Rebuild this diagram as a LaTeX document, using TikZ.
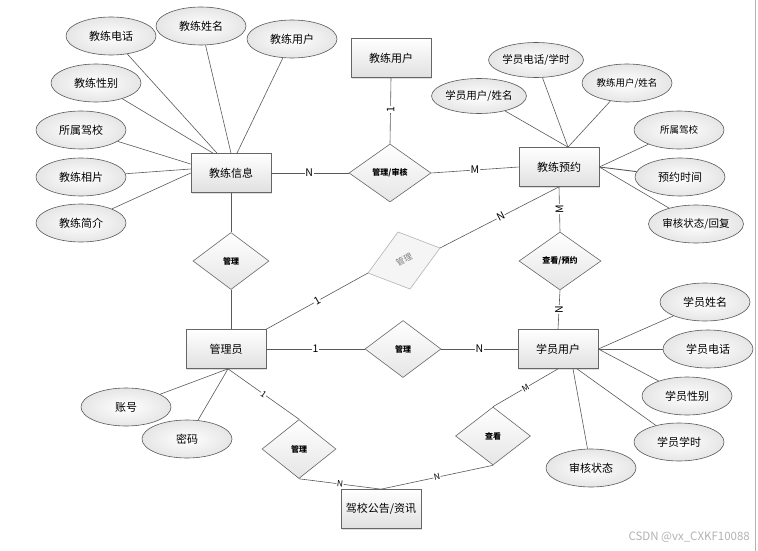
\documentclass[tikz,border=0pt]{standalone}
\usepackage{fontspec}
\setmainfont{Noto Sans CJK SC}
\usetikzlibrary{shapes.geometric,shadows}
\begin{document}
\begin{tikzpicture}[x=1pt,y=-1pt,
  every node/.style={font=\fontsize{11}{12}\selectfont},
  ent/.style={rectangle,draw=black!60,line width=0.7pt,top color=white,bottom color=black!12,
    minimum width=80pt,minimum height=39pt,inner sep=1pt,
    drop shadow={shadow xshift=1.2pt,shadow yshift=-1.2pt,fill=black!25}},
  attr/.style={ellipse,draw=black!65,line width=0.6pt,inner color=white,outer color=black!10,
    minimum width=90pt,minimum height=38pt,inner sep=0pt},
  rel/.style={diamond,draw=black!60,line width=0.6pt,top color=white,bottom color=black!10,
    minimum width=78pt,minimum height=58pt,inner sep=0pt,font=\fontsize{8}{9}\selectfont\bfseries},
  conn/.style={draw=black!65,line width=0.6pt},
  card/.style={font=\fontsize{10.5}{11}\selectfont,fill=white,inner sep=0.6pt},
  smallcard/.style={card,font=\fontsize{8.5}{9}\selectfont},
  smalltxt/.style={font=\fontsize{9.5}{10}\selectfont}
]
\useasboundingbox (0,0) rectangle (758,551);
\draw[black!30,line width=0.8pt] (755.5,0) coordinate (bl1) -- (755.5,551) coordinate (bl2);

% entities
\node[ent] (jlxx) at (231,173) {教练信息};
\node[ent] (jlyh) at (391,58) {教练用户};
\node[ent] (jlyy) at (559,167) {教练预约};
\node[ent] (gly)  at (226,349) {管理员};
\node[ent] (xyyh) at (558,349) {学员用户};
\node[ent] (jxgg) at (381,509) {驾校公告/资讯};

% relationships
\node[rel,minimum width=82pt] (glsh) at (390,173) {管理/审核};
\node[rel,minimum width=76pt,minimum height=57pt] (gl1) at (231,261) {管理};
\node[rel,minimum width=82pt] (ckyy) at (560,261) {查看/预约};
\node[rel,minimum width=76pt,minimum height=57pt] (gl2) at (403,349) {管理};
\node[rel,minimum width=74pt,minimum height=59pt] (gl3) at (299,449) {管理};
\node[rel,minimum width=75pt,minimum height=58pt] (ck)  at (493,436) {查看};

% light skewed diamond
\coordinate (ldt) at (398,232);
\coordinate (ldr) at (440,248);
\coordinate (ldb) at (410,289);
\coordinate (ldl) at (368,273);
\filldraw[draw=black!30,fill=black!4,line width=0.6pt] (ldt) -- (ldr) -- (ldb) -- (ldl) -- cycle;
\node[font=\fontsize{8.5}{9}\selectfont,text=black!50,rotate=28,inner sep=0pt] (gl4) at (404,260) {管理};

% attributes of 教练信息
\node[attr] (a1) at (111,36) {教练电话};
\node[attr] (a2) at (201,26) {教练姓名};
\node[attr] (a3) at (292,39) {教练用户};
\node[attr] (a4) at (96,83) {教练性别};
\node[attr] (a5) at (81,130) {所属驾校};
\node[attr] (a6) at (81,177) {教练相片};
\node[attr] (a7) at (81,223) {教练简介};
\draw[conn] (a1) -- ([xshift=-14pt]jlxx.north);
\draw[conn] (a2) -- (jlxx.north);
\draw[conn] (a3) -- ([xshift=6pt]jlxx.north);
\draw[conn] (a4) -- ([xshift=-18pt]jlxx.north);
\draw[conn] (a5) -- ([yshift=9pt]jlxx.west);
\draw[conn] (a6) -- ([yshift=4pt]jlxx.west);
\draw[conn] (a7) -- (jlxx.west);

% attributes of 教练预约
\node[attr,minimum height=35pt,font=\fontsize{10.5}{11}\selectfont] (b1) at (479,96) {学员用户/姓名};
\node[attr,minimum height=35pt,font=\fontsize{10.5}{11}\selectfont] (b2) at (536,60) {学员电话/学时};
\node[attr,smalltxt] (b3) at (627,83) {教练用户/姓名};
\node[attr,smalltxt] (b4) at (679,130) {所属驾校};
\node[attr] (b5) at (680,177) {预约时间};
\node[attr,font=\fontsize{10.5}{11}\selectfont] (b6) at (696,224) {审核状态/回复};
\draw[conn] (b1) -- ([xshift=9pt]jlyy.north);
\draw[conn] (b2) -- ([xshift=9pt]jlyy.north);
\draw[conn] (b3) -- ([xshift=9pt]jlyy.north);
\draw[conn] (b4) -- (jlyy.east);
\draw[conn,line width=0.9pt] (b5) -- (jlyy.east);
\draw[conn] (b6) -- (jlyy.east);

% attributes of 学员用户
\node[attr] (c1) at (705,302) {学员姓名};
\node[attr] (c2) at (708,349) {学员电话};
\node[attr] (c3) at (687,396) {学员性别};
\node[attr] (c4) at (679,442) {学员学时};
\node[attr] (c5) at (591,468) {审核状态};
\draw[conn] (c1) -- (xyyh.east);
\draw[conn] (c2) -- (xyyh.east);
\draw[conn] (c3) -- (xyyh.east);
\draw[conn] (c4) -- ([xshift=19pt]xyyh.south);
\draw[conn] (c5) -- ([xshift=15pt]xyyh.south);

% attributes of 管理员
\node[attr] (d1) at (126,407) {账号};
\node[attr] (d2) at (187,439) {密码};
\draw[conn] (d1) -- ([xshift=2pt]gly.south);
\draw[conn] (d2) -- ([xshift=2pt]gly.south);

% relationship connectors
\draw[conn] (jlxx.east) -- node[card,pos=0.49] {N} (glsh.west);
\draw[conn] (glsh.east) -- node[card,pos=0.5] {M} (jlyy.west);
\draw[conn] (jlyh.south) -- node[card,pos=0.48,rotate=90] {1} (glsh.north);
\draw[conn] (jlyy.south) -- node[card,pos=0.49,rotate=90] {M} (ckyy.north);
\draw[conn] (ckyy.south) -- node[card,pos=0.5,rotate=90] {N} (xyyh.north);
\draw[conn] (jlxx.south) -- (gl1.north);
\draw[conn] (gl1.south) -- (gl1.south |- gly.north);
\draw[conn] (gly.east) -- node[card,pos=0.5] {1} (gl2.west);
\draw[conn] (gl2.east) -- node[card,pos=0.5] {N} (xyyh.west);
\draw[conn] (gly.north east) -- node[card,pos=0.5,sloped] {1} (ldl);
\draw[conn] (ldr) -- node[card,pos=0.51,sloped] {N} (jlyy.south);
\draw[conn] ([xshift=2pt]gly.south) -- node[smallcard,pos=0.5,sloped] {1} (gl3.north);
\draw[conn] (gl3.south) -- node[smallcard,pos=0.5,sloped] {N} (jxgg.north);
\draw[conn] (xyyh.south) -- node[smallcard,pos=0.5,sloped] {M} (ck.north);
\draw[conn] (ck.south) -- node[smallcard,pos=0.5,sloped] {N} (jxgg.north);

% watermark
\node[font=\fontsize{11.5}{12}\selectfont,text=black!30,anchor=east,inner sep=0pt] (wm) at (750,537) {CSDN @vx\_CXKF10088};
\end{tikzpicture}
\end{document}
